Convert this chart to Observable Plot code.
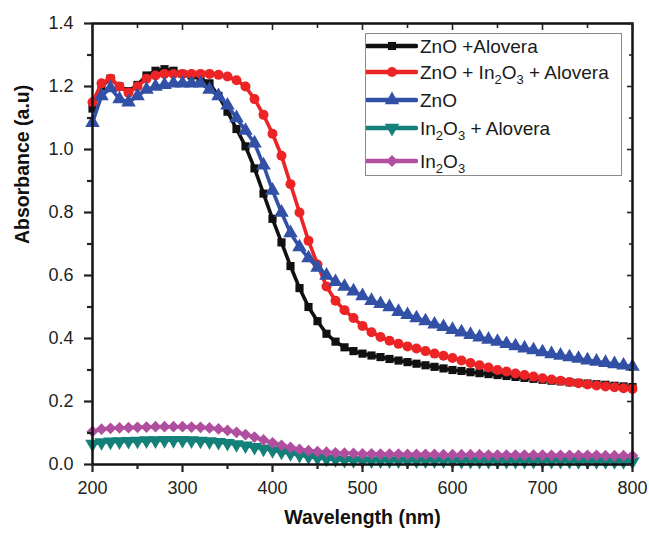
<!DOCTYPE html>
<html>
<head>
<meta charset="utf-8">
<script src="https://cdn.jsdelivr.net/npm/d3@7"></script>
<script src="https://cdn.jsdelivr.net/npm/@observablehq/plot@0.6"></script>
<style>
  html, body { margin: 0; padding: 0; background: #fff; }
  #wrap { position: relative; width: 649px; height: 535px; font-family: "Liberation Sans", Arial, sans-serif; }
  #legend { position: absolute; left: 365px; top: 33px; width: 257px; height: 143px; border: 1px solid #8a8a8a; box-sizing: border-box; background: #fff; }
  .row { position: absolute; left: 0; height: 28px; }
  .row svg { position: absolute; left: 0; top: 0; }
  .row .lab { position: absolute; left: 54px; font-size: 19px; color: #1a1a1a; white-space: nowrap; line-height: 1; }
  .lab sub { font-size: 13px; vertical-align: -5px; line-height: 0; }
</style>
</head>
<body>
<div id="wrap"></div>
<script>
// ---- data ----
const wavelength = [200,210,220,230,240,250,260,270,280,290,300,310,320,330,340,350,360,370,380,390,400,410,420,430,440,450,460,470,480,490,500,510,520,530,540,550,560,570,580,590,600,610,620,630,640,650,660,670,680,690,700,710,720,730,740,750,760,770,780,790,800];

const znoAlovera = [1.13,1.20,1.225,1.20,1.185,1.205,1.235,1.25,1.255,1.25,1.24,1.235,1.225,1.21,1.17,1.12,1.065,1.01,0.94,0.86,0.78,0.705,0.63,0.56,0.50,0.455,0.415,0.39,0.372,0.36,0.352,0.346,0.341,0.335,0.33,0.325,0.32,0.315,0.31,0.305,0.30,0.297,0.293,0.29,0.287,0.284,0.281,0.278,0.275,0.272,0.269,0.266,0.264,0.261,0.259,0.257,0.255,0.253,0.25,0.248,0.246];

const znoIn2o3Alovera = [1.15,1.21,1.225,1.20,1.18,1.20,1.225,1.235,1.24,1.24,1.24,1.24,1.24,1.24,1.237,1.232,1.22,1.20,1.16,1.11,1.05,0.98,0.89,0.80,0.71,0.635,0.565,0.52,0.49,0.465,0.44,0.42,0.405,0.393,0.383,0.375,0.368,0.36,0.352,0.345,0.338,0.33,0.322,0.315,0.308,0.30,0.295,0.289,0.284,0.279,0.274,0.27,0.266,0.262,0.258,0.254,0.251,0.248,0.245,0.242,0.24];

const zno = [1.085,1.17,1.195,1.16,1.15,1.17,1.19,1.20,1.205,1.21,1.21,1.21,1.21,1.19,1.17,1.14,1.10,1.06,1.02,0.95,0.87,0.80,0.735,0.69,0.655,0.625,0.60,0.58,0.565,0.55,0.535,0.52,0.51,0.50,0.485,0.475,0.465,0.455,0.445,0.437,0.428,0.42,0.412,0.404,0.397,0.39,0.383,0.376,0.369,0.363,0.357,0.351,0.346,0.341,0.336,0.331,0.327,0.323,0.319,0.315,0.311];

const in2o3Alovera = [0.065,0.07,0.072,0.073,0.074,0.075,0.076,0.076,0.077,0.077,0.077,0.076,0.075,0.073,0.071,0.068,0.064,0.06,0.055,0.05,0.045,0.04,0.035,0.03,0.025,0.021,0.018,0.016,0.014,0.013,0.012,0.012,0.012,0.012,0.012,0.012,0.012,0.012,0.012,0.012,0.011,0.011,0.011,0.011,0.011,0.011,0.011,0.011,0.011,0.011,0.011,0.011,0.011,0.011,0.01,0.01,0.01,0.01,0.01,0.01,0.01];

const in2o3 = [0.105,0.112,0.115,0.116,0.117,0.118,0.119,0.12,0.12,0.12,0.12,0.119,0.118,0.116,0.113,0.108,0.102,0.095,0.087,0.078,0.069,0.061,0.054,0.048,0.044,0.041,0.039,0.037,0.036,0.035,0.034,0.034,0.033,0.033,0.033,0.032,0.032,0.032,0.032,0.031,0.031,0.031,0.031,0.031,0.03,0.03,0.03,0.03,0.03,0.03,0.03,0.029,0.029,0.029,0.029,0.029,0.029,0.028,0.028,0.028,0.028];

const seriesNames = ["ZnO +Alovera", "ZnO + In2O3 + Alovera", "ZnO", "In2O3 + Alovera", "In2O3"];
const seriesLabelsHtml = ["ZnO +Alovera", "ZnO + In<sub>2</sub>O<sub>3</sub> + Alovera", "ZnO", "In<sub>2</sub>O<sub>3</sub> + Alovera", "In<sub>2</sub>O<sub>3</sub>"];
const seriesValues = [znoAlovera, znoIn2o3Alovera, zno, in2o3Alovera, in2o3];
const seriesColors = ["#111111", "#ec2426", "#3250a6", "#14807a", "#b04ea0"];

const xMajor = [200,300,400,500,600,700,800];
const xMinor = [250,350,450,550,650,750];
const yMajor = [0,0.2,0.4,0.6,0.8,1.0,1.2,1.4];
const yMinor = [0.1,0.3,0.5,0.7,0.9,1.1,1.3];

// ---- symbols ----
const triangleDown = {
  draw(context, size) {
    const y = -Math.sqrt(size / (Math.sqrt(3) * 3));
    context.moveTo(0, -y * 2);
    context.lineTo(Math.sqrt(3) * y, y);
    context.lineTo(-Math.sqrt(3) * y, y);
    context.closePath();
  }
};
const seriesSymbols = [d3.symbolSquare, d3.symbolCircle, d3.symbolTriangle, triangleDown, d3.symbolDiamond2 || d3.symbolDiamond];
const seriesR = [4.6, 5.0, 5.4, 5.4, 5.3];

const rows = [];
seriesValues.forEach((vals, i) => {
  vals.forEach((v, j) => rows.push({series: seriesNames[i], idx: i, wl: wavelength[j], a: v}));
});

const font = "'Liberation Sans', Arial, sans-serif";
const blank = () => "";

const marks = [];
seriesNames.forEach((name, i) => {
  const d = rows.filter(r => r.idx === i);
  marks.push(Plot.line(d, {x: "wl", y: "a", stroke: seriesColors[i], strokeWidth: 3.6}));
  marks.push(Plot.dot(d, {x: "wl", y: "a", fill: seriesColors[i], stroke: "none", r: seriesR[i], symbol: () => seriesSymbols[i]}));
});

const chart = Plot.plot({
  width: 649,
  height: 535,
  marginLeft: 92,
  marginRight: 17,
  marginTop: 23,
  marginBottom: 71,
  style: {fontFamily: font, background: "#fff", color: "#222"},
  x: {domain: [200, 800], label: null},
  y: {domain: [0, 1.4], label: null},
  symbol: {type: "identity"},
  marks: [
    ...marks,
    Plot.frame({stroke: "#111", strokeWidth: 2.5}),
    Plot.axisX(xMajor, {anchor: "bottom", tickSize: 8, tickPadding: 9, strokeWidth: 2.2, fontSize: 18, tickFormat: d => String(d), label: null}),
    Plot.axisX(xMinor, {anchor: "bottom", tickSize: 5, strokeWidth: 2.2, tickFormat: blank, label: null}),
    Plot.axisX(xMajor, {anchor: "top", tickSize: -6, strokeWidth: 1.6, tickFormat: blank, label: null}),
    Plot.axisX(xMinor, {anchor: "top", tickSize: -4, strokeWidth: 1.6, tickFormat: blank, label: null}),
    Plot.axisY(yMajor, {anchor: "left", tickSize: 8, tickPadding: 11, strokeWidth: 2.2, fontSize: 18, tickFormat: d3.format(".1f"), label: null}),
    Plot.axisY(yMinor, {anchor: "left", tickSize: 5, strokeWidth: 2.2, tickFormat: blank, label: null}),
    Plot.axisY(yMajor, {anchor: "right", tickSize: -6, strokeWidth: 1.6, tickFormat: blank, label: null}),
    Plot.axisY(yMinor, {anchor: "right", tickSize: -4, strokeWidth: 1.6, tickFormat: blank, label: null}),
    Plot.text(["Wavelength (nm)"], {frameAnchor: "bottom", dy: 59, fontSize: 19.5, fontWeight: "bold", fill: "#111", text: d => d}),
    Plot.text(["Absorbance (a.u)"], {frameAnchor: "left", dx: -70, rotate: -90, fontSize: 19.5, fontWeight: "bold", fill: "#111", text: d => d})
  ]
});

const wrap = document.getElementById("wrap");
wrap.appendChild(chart);

// ---- legend (HTML overlay) ----
const legend = document.createElement("div");
legend.id = "legend";
const rowCenters = [12, 38, 66, 94, 127];
seriesNames.forEach((name, i) => {
  const row = document.createElement("div");
  row.className = "row";
  row.style.top = (rowCenters[i] - 14) + "px";
  row.style.width = "255px";
  const svg = d3.create("svg").attr("width", 52).attr("height", 28);
  svg.append("line").attr("x1", 1).attr("x2", 50).attr("y1", 14).attr("y2", 14)
    .attr("stroke", seriesColors[i]).attr("stroke-width", 4.5).attr("stroke-linecap", "round");
  svg.append("path").attr("transform", "translate(26,14)")
    .attr("d", d3.symbol(seriesSymbols[i], Math.PI * seriesR[i] * seriesR[i])())
    .attr("fill", seriesColors[i]);
  row.appendChild(svg.node());
  const lab = document.createElement("span");
  lab.className = "lab";
  lab.style.top = "5px";
  lab.innerHTML = seriesLabelsHtml[i];
  row.appendChild(lab);
  legend.appendChild(row);
});
wrap.appendChild(legend);
</script>
</body>
</html>
